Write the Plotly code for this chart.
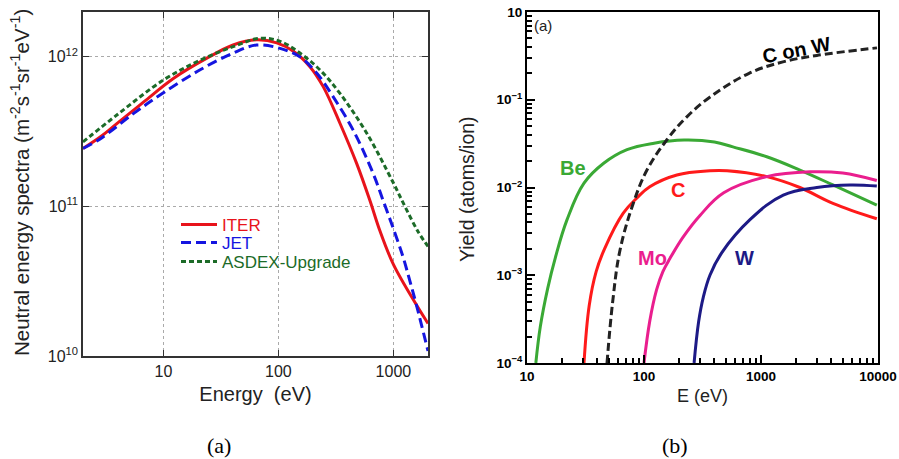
import math
import plotly.graph_objects as go

# ---------------- Panel (a): neutral energy spectra ----------------
iter_E = [2, 2.84, 3.96, 6.75, 12.3, 23.9, 40.4, 64.5, 96.8, 135, 188, 246, 343, 479, 624, 762, 1000, 1585, 2000]
iter_S = [2.44e11, 2.92e11, 3.59e11, 5.0e11, 7.2e11, 9.8e11, 1.2e12, 1.3e12, 1.24e12, 1.09e12, 8.6e11, 6.3e11,
          3.6e11, 1.94e11, 1.1e11, 6.9e10, 4.1e10, 2.2e10, 1.65e10]

jet_E = [2, 2.84, 5.52, 10, 20.9, 40.4, 64.5, 103.5, 154, 215, 300, 447, 667, 813, 993, 1213, 1387, 1585, 2000]
jet_S = [2.44e11, 2.84e11, 4.19e11, 5.75e11, 8.2e11, 1.06e12, 1.2e12, 1.14e12, 1.0e12, 7.8e11, 5.4e11, 3.24e11,
         1.66e11, 1.1e11, 7.2e10, 4.6e10, 3.2e10, 2.2e10, 1.08e10]

asdex_E = [2, 3.96, 10, 20.9, 40.4, 69, 103.5, 154, 229, 343, 585, 993, 1260, 1637, 2000]
asdex_S = [2.7e11, 4.1e11, 7.0e11, 9.5e11, 1.17e12, 1.33e12, 1.27e12, 1.06e12, 8.2e11, 5.7e11, 3.1e11, 1.45e11,
           1.0e11, 6.8e10, 5.4e10]

a_xticks = [10, 100, 1000]
a_xticktext = ["10", "100", "1000"]
a_yticks = [1e10, 1e11, 1e12]
a_yticktext = ["10<sup>10</sup>", "10<sup>11</sup>", "10<sup>12</sup>"]

# ---------------- Panel (b): sputtering yields ----------------
be_E = [11.9, 13, 15, 17.5, 22, 30.7, 45.5, 71.6, 122, 220, 400, 575, 1120, 2150, 4120, 9770]
be_Y = [1e-4, 2.6e-4, 7e-4, 1.6e-3, 4.3e-3, 0.0112, 0.019, 0.027, 0.032, 0.0347, 0.033, 0.029, 0.0224, 0.0158,
        0.0107, 0.0063]

c_E = [30.7, 34, 39, 46, 66.5, 87, 112, 191, 366, 513, 1120, 2150, 4120, 9770]
c_Y = [1e-4, 4.5e-4, 1.1e-3, 2.0e-3, 5.1e-3, 7.6e-3, 0.0102, 0.0139, 0.0155, 0.0155, 0.0133, 0.010, 0.0066, 0.0044]

mo_E = [100, 112, 128, 145, 167, 215, 301, 480, 1120, 2630, 5000, 9770]
mo_Y = [1e-4, 3.0e-4, 6.8e-4, 1.1e-3, 1.56e-3, 2.7e-3, 4.8e-3, 8.7e-3, 0.0133, 0.0151, 0.0146, 0.012]

w_E = [268, 293, 321, 366, 461, 805, 1550, 3000, 5770, 9770]
w_Y = [1e-4, 2.95e-4, 5.6e-4, 1.0e-3, 1.8e-3, 4.3e-3, 8.2e-3, 0.010, 0.0107, 0.0104]

cw_E = [48.3, 54, 62.4, 81, 106, 157, 230, 365, 790, 1540, 3000, 9800]
cw_Y = [1e-4, 5e-4, 1.94e-3, 6.6e-3, 0.0158, 0.035, 0.063, 0.107, 0.2, 0.27, 0.32, 0.39]

b_xticks = [10, 100, 1000, 10000]
b_xticktext = ["<b>10</b>", "<b>100</b>", "<b>1000</b>", "<b>10000</b>"]
b_yticks = [1e-4, 1e-3, 1e-2, 1e-1, 1]
b_yticktext = ["<b>10<sup>−4</sup></b>", "<b>10<sup>−3</sup></b>", "<b>10<sup>−2</sup></b>",
               "<b>10<sup>−1</sup></b>", "<b>10</b>"]
b_xminor = [m * 10 ** k for k in range(1, 4) for m in range(2, 10)]
b_yminor = [m * 10.0 ** k for k in range(-4, 0) for m in range(2, 10)]

W, H = 899, 459
def px(x):
    return x / W
def py(y):
    return 1 - y / H

FONT = "Liberation Sans, Arial, sans-serif"
fig = go.Figure()

fig.add_trace(go.Scatter(x=iter_E, y=iter_S, mode="lines", name="ITER", legend="legend",
                         line=dict(color="#e8131b", width=3, shape="spline", smoothing=1.0),
                         xaxis="x", yaxis="y"))
fig.add_trace(go.Scatter(x=jet_E, y=jet_S, mode="lines", name="JET", legend="legend2",
                         line=dict(color="#1515e0", width=3, dash="10px,5px", shape="spline", smoothing=1.0),
                         xaxis="x", yaxis="y"))
fig.add_trace(go.Scatter(x=asdex_E, y=asdex_S, mode="lines", name="ASDEX-Upgrade", legend="legend3",
                         line=dict(color="#1c6b28", width=3, dash="5px,3px", shape="spline", smoothing=1.0),
                         xaxis="x", yaxis="y"))

for E, Y, col, dash in [(be_E, be_Y, "#3aa935", "solid"), (c_E, c_Y, "#ff1a1a", "solid"),
                        (mo_E, mo_Y, "#ea1e8e", "solid"), (w_E, w_Y, "#1d1a86", "solid"),
                        (cw_E, cw_Y, "#222222", "8px,4px")]:
    fig.add_trace(go.Scatter(x=E, y=Y, mode="lines", showlegend=False,
                             line=dict(color=col, width=3, dash=dash, shape="spline", smoothing=1.1),
                             xaxis="x2", yaxis="y2"))

axis_a = dict(type="log", showline=True, linecolor="#333", linewidth=1.5, mirror="allticks",
              ticks="inside", ticklen=6, tickcolor="#333", showgrid=True, gridcolor="#aaaaaa",
              griddash="dot", gridwidth=1, zeroline=False, automargin=False,
              tickfont=dict(family=FONT, size=16, color="#222"))

leg = dict(xanchor="left", yanchor="middle", bgcolor="rgba(0,0,0,0)", itemwidth=36)

fig.update_layout(
    width=W, height=H, margin=dict(l=0, r=0, t=0, b=0, autoexpand=False),
    paper_bgcolor="white", plot_bgcolor="white",
    xaxis=dict(axis_a, domain=[px(83), px(428)], range=[math.log10(2), math.log10(2000)],
               tickmode="array", tickvals=a_xticks, ticktext=a_xticktext, anchor="y",
               title=dict(text="Energy  (eV)", font=dict(family=FONT, size=20, color="#222"), standoff=8)),
    yaxis=dict(axis_a, domain=[py(356), py(12)], range=[10, 12.3],
               tickmode="array", tickvals=a_yticks, ticktext=a_yticktext, anchor="x"),
    xaxis2=dict(type="log", domain=[px(527), px(878)], range=[1, 4], anchor="y2", automargin=False,
                showline=True, linecolor="black", linewidth=2, mirror=True, ticklabeloverflow="allow",
                ticks="inside", ticklen=8, tickwidth=1.5, tickcolor="black", showgrid=False, zeroline=False,
                tickmode="array", tickvals=b_xticks, ticktext=b_xticktext,
                minor=dict(tickmode="array", tickvals=b_xminor, ticks="inside", ticklen=5,
                           tickwidth=1.5, tickcolor="black", showgrid=False),
                tickfont=dict(family=FONT, size=13.5, color="black"),
                title=dict(text="E (eV)", font=dict(family=FONT, size=18, color="#222"), standoff=6)),
    yaxis2=dict(type="log", domain=[py(363), py(12)], range=[-4, 0], anchor="x2", automargin=False,
                showline=True, linecolor="black", linewidth=2, mirror=True, ticklabeloverflow="allow",
                ticks="inside", ticklen=8, tickwidth=1.5, tickcolor="black", showgrid=False, zeroline=False,
                tickmode="array", tickvals=b_yticks, ticktext=b_yticktext,
                minor=dict(tickmode="array", tickvals=b_yminor, ticks="inside", ticklen=5,
                           tickwidth=1.5, tickcolor="black", showgrid=False),
                tickfont=dict(family=FONT, size=13.5, color="black")),
    legend=dict(leg, x=px(176), y=py(225), font=dict(family=FONT, size=17, color="#e8131b")),
    legend2=dict(leg, x=px(176), y=py(243), font=dict(family=FONT, size=17, color="#1515e0")),
    legend3=dict(leg, x=px(176), y=py(262), font=dict(family=FONT, size=17, color="#1c6b28")),
)

ann = [
    dict(text="Neutral energy spectra (m<sup>-2</sup>s<sup>-1</sup>sr<sup>-1</sup>eV<sup>-1</sup>)",
         x=px(20), y=py(183), xref="paper", yref="paper", xanchor="center", yanchor="middle",
         textangle=-90, showarrow=False, font=dict(family=FONT, size=20.5, color="#222")),
    dict(text="Yield (atoms/ion)", x=px(467), y=py(189), xref="paper", yref="paper", textangle=-90,
         xanchor="center", yanchor="middle",
         showarrow=False, font=dict(family=FONT, size=19.5, color="#222")),
    dict(text="(a)", x=px(219), y=py(445), xref="paper", yref="paper", showarrow=False,
         xanchor="center", yanchor="middle",
         font=dict(family="Liberation Serif, serif", size=22, color="black")),
    dict(text="(b)", x=px(675), y=py(445), xref="paper", yref="paper", showarrow=False,
         xanchor="center", yanchor="middle",
         font=dict(family="Liberation Serif, serif", size=22, color="black")),
    dict(text="(a)", x=1.137, y=-0.15, xref="x2", yref="y2", showarrow=False,
         font=dict(family=FONT, size=15, color="#222")),
    dict(text="<b>C on W</b>", x=3.30, y=-0.433, xref="x2", yref="y2", showarrow=False, textangle=-11,
         font=dict(family=FONT, size=20, color="black")),
    dict(text="<b>Be</b>", x=1.393, y=-1.78, xref="x2", yref="y2", showarrow=False,
         font=dict(family=FONT, size=20, color="#3aa935")),
    dict(text="<b>C</b>", x=2.29, y=-2.03, xref="x2", yref="y2", showarrow=False,
         font=dict(family=FONT, size=20, color="#ff1a1a")),
    dict(text="<b>Mo</b>", x=2.07, y=-2.80, xref="x2", yref="y2", showarrow=False,
         font=dict(family=FONT, size=20, color="#ea1e8e")),
    dict(text="<b>W</b>", x=2.855, y=-2.80, xref="x2", yref="y2", showarrow=False,
         font=dict(family=FONT, size=20, color="#1d1a86")),
]
fig.update_layout(annotations=ann)

# remove the browser's default 8px body margin so the figure fills the window exactly
fig.write_html("out.html", config={"displayModeBar": False},
               post_script="document.body.style.margin='0px';")
